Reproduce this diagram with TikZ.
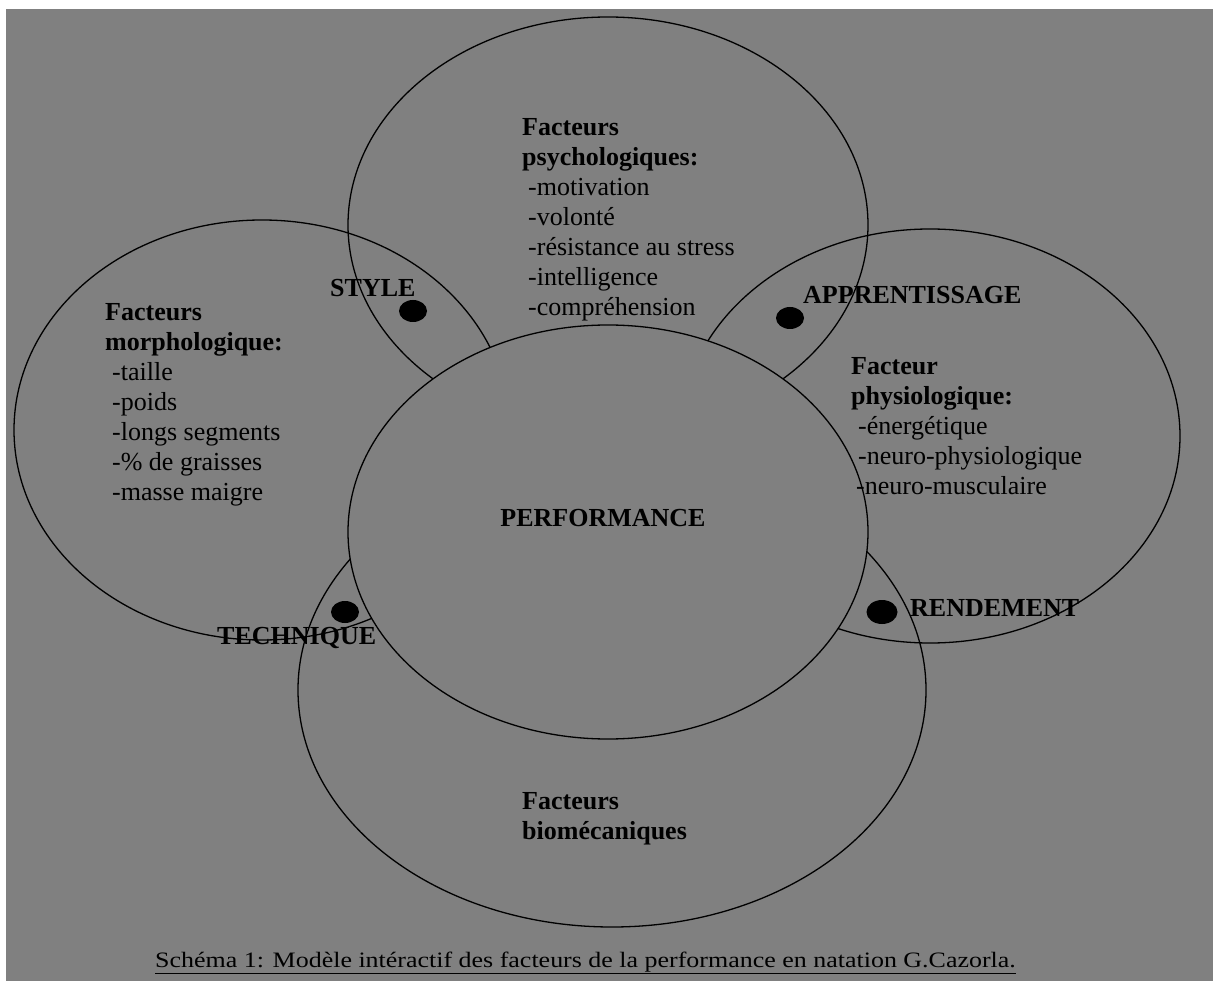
\documentclass[tikz,border=0pt]{standalone}
\usepackage{fontspec}
\setmainfont{Liberation Serif}
\newfontfamily\capfont[FakeStretch=1.18]{Liberation Serif}
\usetikzlibrary{shapes.geometric}
\definecolor{bggray}{RGB}{128,128,128}

\begin{document}
\begin{tikzpicture}[x=1pt,y=-1pt,
    zone/.style={draw=black, line width=1.3pt, ellipse, inner sep=0pt},
    dot/.style={fill=black, ellipse, inner sep=0pt, minimum width=28pt, minimum height=22pt},
    lbl/.style={font=\bfseries\fontsize{26}{30}\selectfont, inner sep=0pt, anchor=west},
    txt/.style={font=\fontsize{26}{30}\selectfont, align=left, anchor=north west, inner sep=0pt}]
    % page and grey background
    \fill[white] (0,0) rectangle (1213,981);
    \fill[bggray] (6,9) rectangle (1213,981);
    \useasboundingbox (0,0) rectangle (1213,981);

    % outer circles
    \node[zone, minimum width=520pt, minimum height=416pt] (psy) at (608,225) {};
    \node[zone, minimum width=496pt, minimum height=420pt] (morpho) at (262,430) {};
    \node[zone, minimum width=500pt, minimum height=414pt] (physio) at (930,436) {};
    \node[zone, minimum width=628pt, minimum height=474pt] (biomeca) at (612,690) {};

    % centre circle
    \node[zone, fill=bggray, minimum width=520pt, minimum height=414pt] (perf) at (608,532) {};
    \node[font=\bfseries\fontsize{26}{30}\selectfont] (perflbl) at (603,518) {PERFORMANCE};

    % factor texts
    \node[txt] (psytxt) at (522,118) {\textbf{Facteurs}\\ \textbf{psychologiques:}\\
        \hspace*{6pt}-motivation\\ \hspace*{6pt}-volonté\\ \hspace*{6pt}-résistance au stress\\
        \hspace*{6pt}-intelligence\\ \hspace*{6pt}-compréhension};
    \node[txt] (morphotxt) at (105,303) {\textbf{Facteurs}\\ \textbf{morphologique:}\\
        \hspace*{7pt}-taille\\ \hspace*{7pt}-poids\\ \hspace*{7pt}-longs segments\\
        \hspace*{7pt}-\% de graisses\\ \hspace*{7pt}-masse maigre};
    \node[txt] (physiotxt) at (851,357) {\textbf{Facteur}\\ \textbf{physiologique:}\\
        \hspace*{7pt}-énergétique\\ \hspace*{7pt}-neuro-physiologique\\ \hspace*{5pt}-neuro-musculaire};
    \node[txt] (biomecatxt) at (522,792) {\textbf{Facteurs}\\ \textbf{biomécaniques}};

    % links between factors
    \node[dot] (styledot) at (413,311) {};
    \node[lbl] (style) at (330,288) {STYLE};
    \node[dot] (apprdot) at (790,318) {};
    \node[lbl] (appr) at (803,295) {APPRENTISSAGE};
    \node[dot] (techdot) at (345,612) {};
    \node[lbl] (tech) at (217,638) {TECHNIQUE};
    \node[dot, minimum width=31pt, minimum height=24pt] (renddot) at (882,612) {};
    \node[lbl] (rend) at (910,608) {RENDEMENT};

    % caption
    \node[anchor=west, inner sep=0pt, font=\capfont\fontsize{22}{26}\selectfont] (caption) at (155,963)
        {\underline{Schéma 1: Modèle intéractif des facteurs de la performance en natation G.Cazorla.}};
\end{tikzpicture}
\end{document}
